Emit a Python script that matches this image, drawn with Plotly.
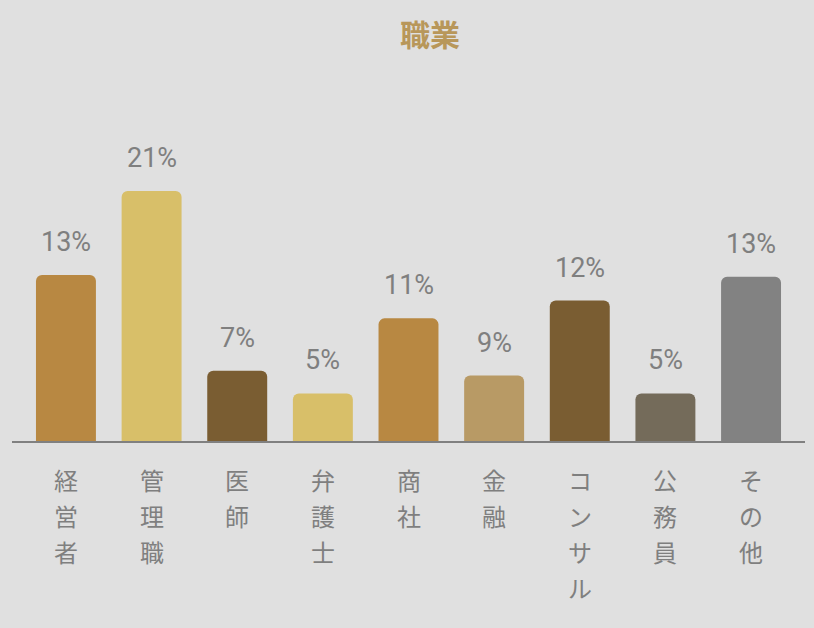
import plotly.graph_objects as go

# 職業別の割合 (bar heights, labels as printed)
categories = ["経営者", "管理職", "医師", "弁護士", "商社", "金融", "コンサル", "公務員", "その他"]
values = [13.95, 21.0, 5.9, 4.0, 10.3, 5.5, 11.8, 4.0, 13.8]
value_labels = ["13%", "21%", "7%", "5%", "11%", "9%", "12%", "5%", "13%"]
colors = ["#B88842", "#D8BF69", "#7A5D32", "#D8BF69", "#B88842",
          "#B89A65", "#7A5D32", "#746B5A", "#828282"]

font_fam = "Roboto, Noto Sans CJK JP, sans-serif"
x_pos = list(range(len(categories)))

fig = go.Figure()
fig.add_trace(go.Bar(
    x=x_pos, y=values, width=0.7,
    marker=dict(color=colors, cornerradius=6, line=dict(width=0)),
    hoverinfo="skip",
))

ann = []
# value labels above bars
for i, v in enumerate(values):
    ann.append(dict(x=i, y=v, xref="x", yref="y", text=value_labels[i],
                    showarrow=False, yanchor="middle", yshift=33,
                    font=dict(family=font_fam, size=27, color="#7F7F7F")))

# vertical category labels, one character per line
for i, cat in enumerate(categories):
    for j, ch in enumerate(cat):
        ann.append(dict(x=i, y=0, xref="x", yref="y", text=ch,
                        showarrow=False, yanchor="middle", yshift=-38 - 36 * j,
                        font=dict(family="Noto Sans CJK JP", size=24, color="#7F7F7F")))

# title
ann.append(dict(x=0.527, y=1.071, xref="paper", yref="paper", text="<b>職業</b>",
                showarrow=False, yanchor="middle",
                font=dict(family="Noto Sans CJK JP", size=30, color="#B8975A")))

fig.update_layout(
    width=814, height=628,
    margin=dict(l=12, r=9, t=60, b=187),
    paper_bgcolor="#E0E0E0", plot_bgcolor="#E0E0E0",
    showlegend=False,
    annotations=ann,
    xaxis=dict(range=[-0.63, 8.63], showticklabels=False, showgrid=False,
               zeroline=False, showline=True, linecolor="#808080", linewidth=2,
               ticks="", fixedrange=True),
    yaxis=dict(range=[0, 32], visible=False, showgrid=False, zeroline=False,
               fixedrange=True),
)

fig.write_html("out.html", config={"displayModeBar": False},
               post_script="document.body.style.margin='0';")
